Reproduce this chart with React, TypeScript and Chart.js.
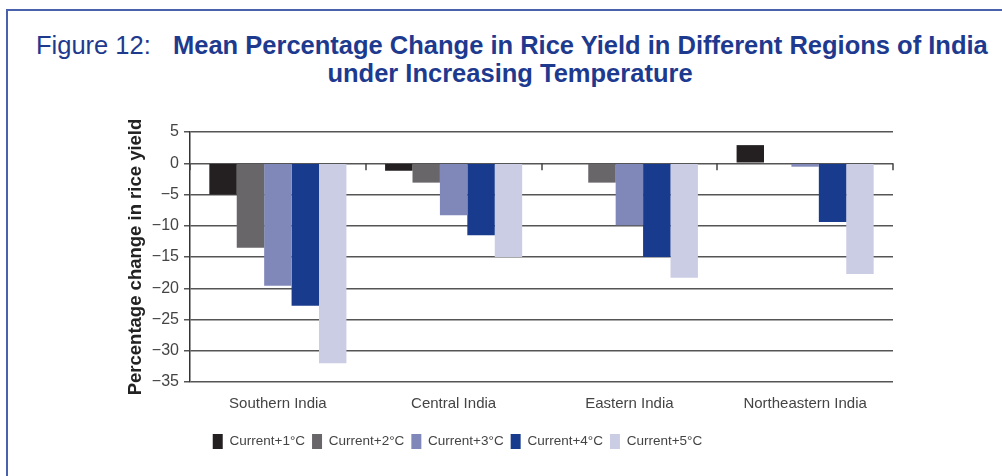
import React, { useEffect, useRef } from "react";
import { Chart, registerables } from "chart.js";

Chart.register(...registerables);

const regions = ["Southern India", "Central India", "Eastern India", "Northeastern India"];
const seriesNames = ["Current+1°C", "Current+2°C", "Current+3°C", "Current+4°C", "Current+5°C"];
const plus1 = [-5.0, -1.2, 0, 2.9];
const plus2 = [-13.5, -3.1, -3.1, 0];
const plus3 = [-19.6, -8.3, -9.9, -0.55];
const plus4 = [-22.8, -11.5, -15.0, -9.4];
const plus5 = [-32.0, -15.0, -18.3, -17.7];
const seriesColors = ["#242021", "#686668", "#8088ba", "#193b8d", "#cbcde4"];
const yTicks = [5, 0, -5, -10, -15, -20, -25, -30, -35];

const FONT = "'Liberation Sans', Arial, Helvetica, sans-serif";
const BLUE = "#1d3a8f";

const categoryTicks = {
  id: "categoryTicks",
  afterDatasetsDraw(chart: any) {
    const x = chart.scales.x;
    const y = chart.scales.y;
    const ctx = chart.ctx;
    const n = regions.length;
    const w = (x.right - x.left) / n;
    const y0 = y.getPixelForValue(0);
    ctx.save();
    ctx.strokeStyle = "#444";
    ctx.lineWidth = 1.5;
    for (let i = 0; i <= n; i++) {
      const px = Math.round(x.left + i * w);
      ctx.beginPath();
      ctx.moveTo(px, y0);
      ctx.lineTo(px, y0 + 7);
      ctx.stroke();
    }
    ctx.restore();
  },
};

// shift the centred legend so that it sits under the plot like the reference
const legendShift = {
  id: "legendShift",
  afterLayout(chart: any) {
    const lg = chart.legend;
    if (lg) {
      lg.left -= 48;
      lg.right -= 48;
    }
  },
};

const titleStyle: React.CSSProperties = {
  position: "absolute",
  fontFamily: FONT,
  fontSize: 25.5,
  color: BLUE,
  whiteSpace: "nowrap",
  lineHeight: "28px",
};

export default function App() {
  const ref = useRef<HTMLCanvasElement | null>(null);

  useEffect(() => {
    if (!ref.current) return;
    const data = [plus1, plus2, plus3, plus4, plus5];
    const chart = new Chart(ref.current, {
      type: "bar",
      data: {
        labels: regions,
        datasets: seriesNames.map((name, i) => ({
          label: name,
          data: data[i],
          backgroundColor: seriesColors[i],
          borderWidth: 0,
          categoryPercentage: 0.78,
          barPercentage: 1.0,
        })),
      },
      plugins: [categoryTicks, legendShift],
      options: {
        animation: false,
        responsive: false,
        devicePixelRatio: 1,
        layout: { padding: { left: 118, right: 109, top: 132, bottom: 17 } },
        plugins: {
          title: { display: false },
          tooltip: { enabled: false },
          legend: {
            display: true,
            position: "bottom",
            labels: {
              boxWidth: 10,
              boxHeight: 15,
              padding: 7,
              color: "#444",
              font: { family: FONT, size: 13.5 },
            },
          },
        },
        scales: {
          x: {
            type: "category",
            grid: { display: false, drawTicks: false },
            border: { display: false },
            ticks: { color: "#444", font: { family: FONT, size: 15 }, padding: 13 },
            afterFit: (s: any) => {
              s.height = 45;
            },
          },
          y: {
            min: -35,
            max: 5,
            afterBuildTicks: (s: any) => {
              s.ticks = yTicks.map((v) => ({ value: v }));
            },
            grid: { color: "#555", lineWidth: 1.5, tickLength: 6, drawTicks: true },
            border: { display: true, color: "#333", width: 1.5 },
            ticks: {
              color: "#444",
              font: { family: FONT, size: 16 },
              padding: 5,
              callback: (v: any) => (Number(v) < 0 ? "\u2212" + Math.abs(Number(v)) : String(v)),
            },
            title: {
              display: true,
              text: "Percentage change in rice yield",
              color: "#222",
              font: { family: FONT, size: 18.5, weight: "bold" },
              padding: { top: 7, bottom: 0 },
            },
            afterFit: (s: any) => {
              s.width = 72;
            },
          },
        },
      },
    });
    return () => chart.destroy();
  }, []);

  return (
    <div
      style={{
        position: "absolute",
        left: 0,
        top: 0,
        width: 1002,
        height: 476,
        overflow: "hidden",
        background: "#fff",
      }}
    >
      <div
        style={{
          position: "absolute",
          left: 6,
          top: 9,
          width: 1100,
          height: 600,
          borderTop: "2px solid #4a62ac",
          borderLeft: "2px solid #4a62ac",
        }}
      />
      <div style={{ ...titleStyle, left: 36, top: 31 }}>Figure 12:</div>
      <div style={{ ...titleStyle, left: 173, top: 31, fontWeight: "bold" }}>
        Mean Percentage Change in Rice Yield in Different Regions of India
      </div>
      <div
        style={{
          ...titleStyle,
          left: 510,
          top: 59,
          transform: "translateX(-50%)",
          fontWeight: "bold",
        }}
      >
        under Increasing Temperature
      </div>
      <canvas
        ref={ref}
        width={1002}
        height={476}
        style={{ position: "absolute", left: 0, top: 0, width: 1002, height: 476 }}
      />
    </div>
  );
}
